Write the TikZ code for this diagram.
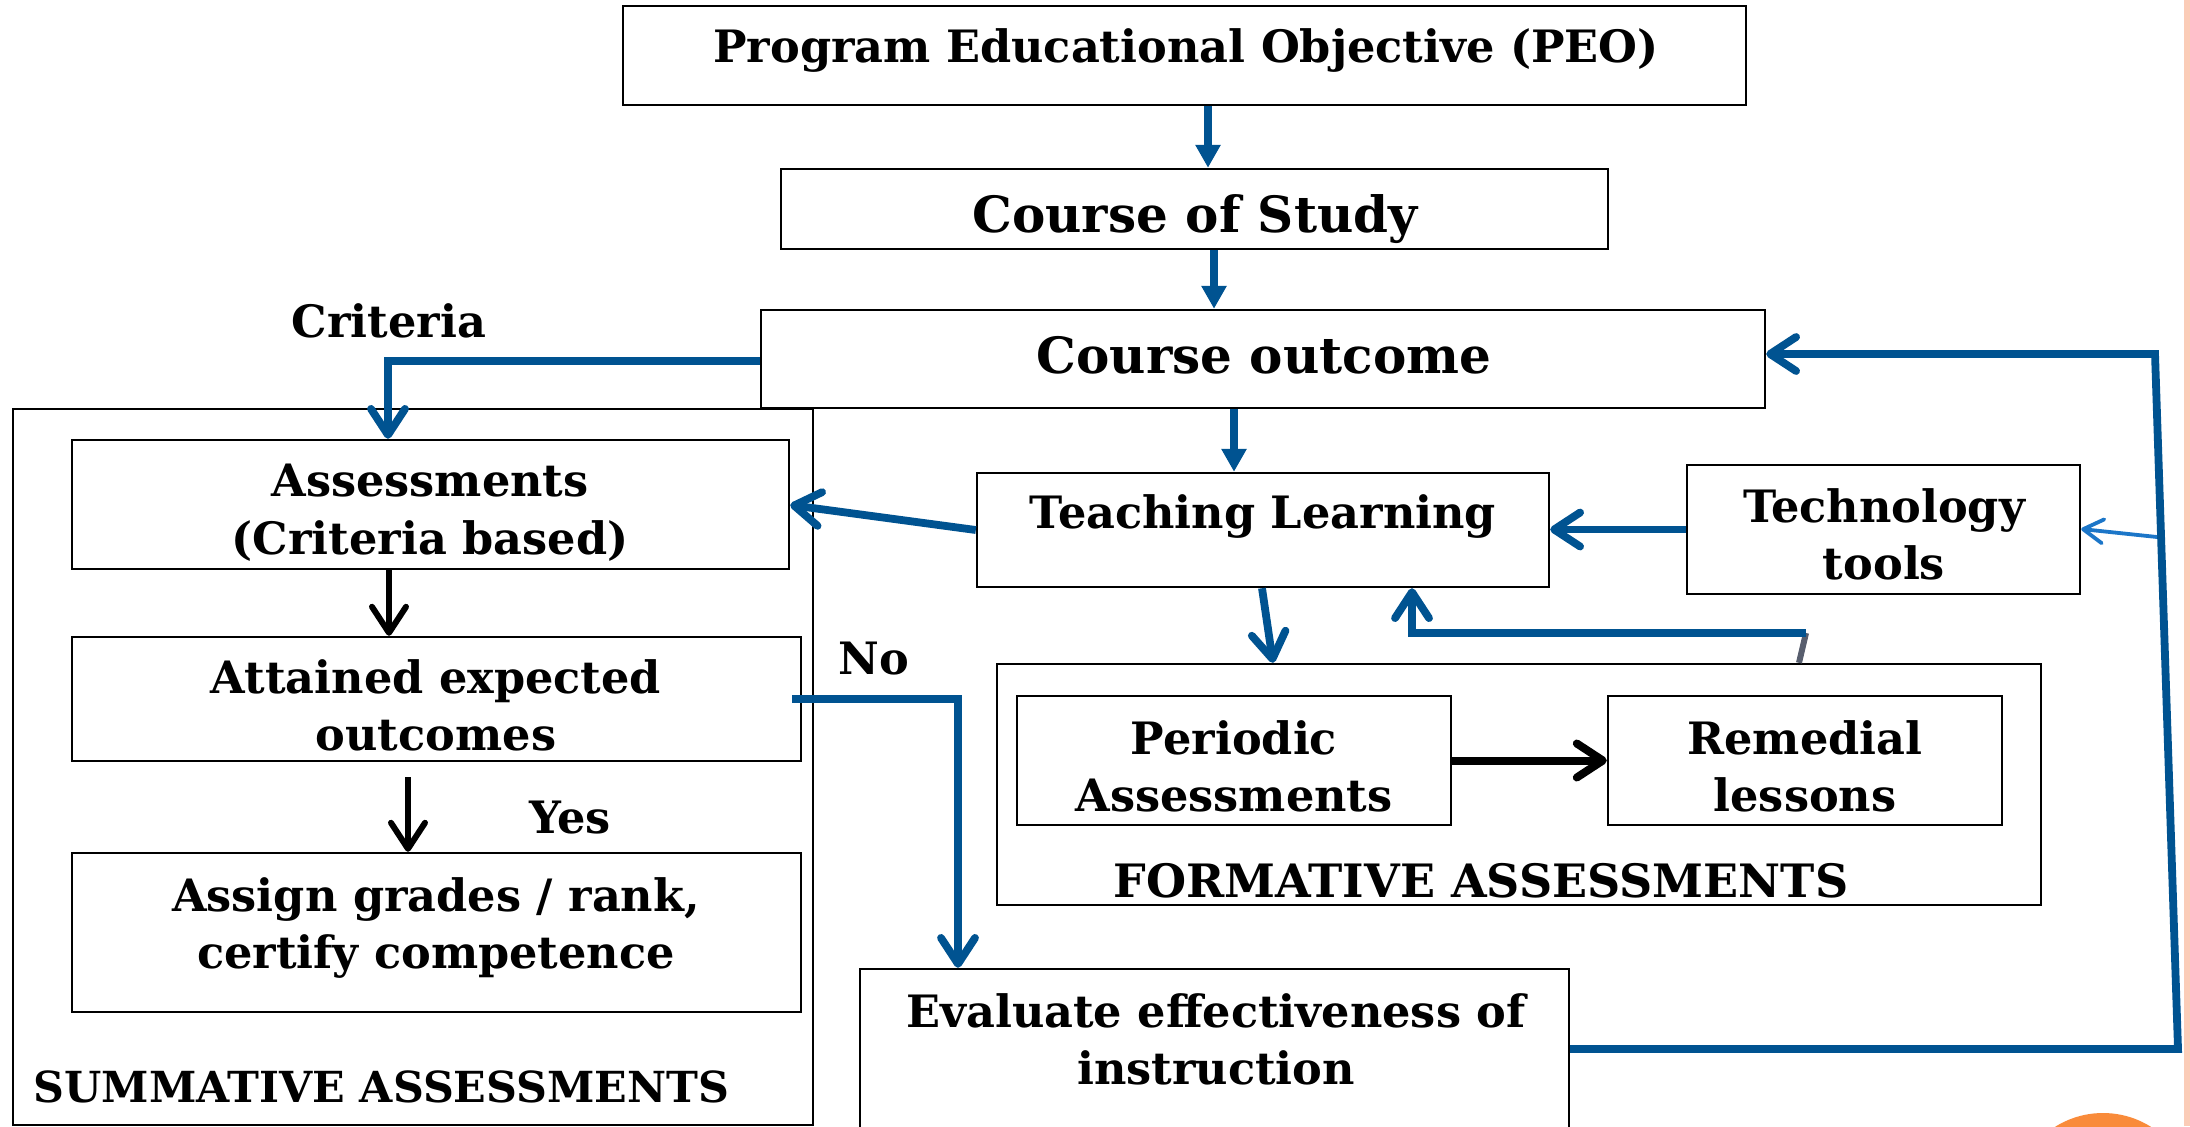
\documentclass[tikz,border=0pt]{standalone}
\usepackage{fontspec}
\setmainfont{DejaVu Serif}
\usetikzlibrary{arrows.meta,fit}

\definecolor{flowblue}{RGB}{0,83,145}
\definecolor{toolblue}{RGB}{28,118,200}
\definecolor{stubgray}{RGB}{88,94,110}
\definecolor{dotorange}{RGB}{249,139,58}
\definecolor{edgepeach}{RGB}{251,204,183}

\tikzset{
  box/.style={draw=black, line width=1.2pt, inner sep=0pt, rectangle},
  frame/.style={draw=black, line width=1pt, inner sep=0pt, rectangle},
  txt/.style={font=\fontsize{22.3}{28.75}\selectfont\bfseries, inner sep=0pt, anchor=base},
  bigtxt/.style={font=\fontsize{25}{31}\selectfont\bfseries, inner sep=0pt, anchor=base},
  mtxt/.style={font=\fontsize{22.3}{28.75}\selectfont\bfseries, inner sep=0pt,
               align=center, anchor=north, execute at begin node=\strut},
  tri/.style={draw=flowblue, line width=4pt, -{Triangle[length=11.5pt,width=12pt]}},
  barb/.style={draw=flowblue, line width=3.9pt, line join=miter,
               -{Straight Barb[length=13pt,width=17pt,round]}},
  kbarb/.style={draw=black, line width=3pt, -{Straight Barb[length=13pt,width=17pt,round]}},
  kbarbthick/.style={draw=black, line width=4pt, -{Straight Barb[length=13pt,width=17pt,round]}},
  tbarb/.style={draw=toolblue, line width=1.9pt, -{Straight Barb[length=10pt,width=12pt,round]}},
}

\begin{document}
\begin{tikzpicture}[x=0.5pt,y=-0.5pt]
  \useasboundingbox (0,0) rectangle (2190,1126);
  \fill[white] (0,0) rectangle (2190,1126);

  % decorative page elements at the right edge
  \fill[edgepeach] (2184,0) rectangle (2190,1126);
  \fill[dotorange] (2103,1203) circle [radius=45pt];

  % main chain
  \node[box, fit={(623,6) (1746,105)}] (peo) {};
  \node[txt] (peo-t) at (1186,62) {Program Educational Objective (PEO)};
  \node[box, fit={(781,169) (1608,249)}] (cos) {};
  \node[bigtxt] (cos-t) at (1195,232) {Course of Study};
  \node[box, fit={(761,310) (1765,408)}] (co) {};
  \node[bigtxt] (co-t) at (1264,373) {Course outcome};

  % summative side
  \node[frame, fit={(13,409) (813,1125)}] (summ) {};
  \node[txt, anchor=base west, font=\fontsize{21.4}{28}\selectfont\bfseries] (summ-t) at (33,1102) {SUMMATIVE ASSESSMENTS};
  \node[box, fit={(72,440) (789,569)}] (assess) {};
  \node[mtxt] (assess-t) at (430,464) {Assessments\\(Criteria based)};
  \node[box, fit={(72,637) (801,761)}] (attain) {};
  \node[mtxt] (attain-t) at (436,659) {Attained expected\\outcomes};
  \node[box, fit={(72,853) (801,1012)}] (assign) {};
  \node[mtxt] (assign-t) at (436,877) {Assign grades / rank,\\certify competence};
  \node[txt] (crit-t) at (389,337) {Criteria};
  \node[txt] (yes-t) at (570,833) {Yes};
  \node[txt] (no-t) at (874,674) {No};

  % teaching side
  \node[box, fit={(977,473) (1549,587)}] (tl) {};
  \node[txt] (tl-t) at (1263,528) {Teaching Learning};
  \node[box, fit={(1687,465) (2080,594)}] (tech) {};
  \node[mtxt] (tech-t) at (1884,488) {Technology\\tools};

  % formative side
  \node[box, fit={(997,664) (2041,905)}] (form) {};
  \node[txt, font=\fontsize{23}{29}\selectfont\bfseries] (form-t) at (1481,897) {FORMATIVE ASSESSMENTS};
  \node[box, fit={(1017,696) (1451,825)}] (periodic) {};
  \node[mtxt] (periodic-t) at (1234,720) {Periodic\\Assessments};
  \node[box, fit={(1608,696) (2002,825)}] (remedial) {};
  \node[mtxt] (remedial-t) at (1805,720) {Remedial\\lessons};

  % evaluation
  \node[box, fit={(860,969) (1569,1150)}] (eval) {};
  \node[mtxt] (eval-t) at (1216,993) {Evaluate effectiveness of\\instruction};

  % bend points
  \coordinate (fb-top) at (1806,633);
  \coordinate (loop-br) at (2178,1049);
  \coordinate (loop-tr) at (2155,354);
  \coordinate (yes-start) at (408,777);

  % connectors
  \draw[tri] (1208,0 |- peo.south) -- (1208,0 |- cos.north);
  \draw[tri] (1214,0 |- cos.south) -- (1214,0 |- co.north);
  \draw[tri] (1234,0 |- co.south) -- (1234,0 |- tl.north);

  \draw[barb] (co.west |- 0,361) -- (388,361) -- (388,0 |- assess.north);
  \draw[barb] (tl.west |- 0,530) -- (assess.east |- 0,505);
  \draw[barb] (tech.west) -- (tech.west -| tl.east);
  \draw[barb] (1262,0 |- tl.south) -- (1273,0 |- form.north);
  \draw[draw=stubgray, line width=3pt] (1799,0 |- form.north) -- (fb-top);
  \draw[barb] (fb-top) -- (1412,0 |- fb-top) -- (1412,0 |- tl.south);

  \draw[kbarb] (389,0 |- assess.south) -- (389,0 |- attain.north);
  \draw[kbarb] (yes-start) -- (yes-start |- assign.north);
  \draw[kbarbthick] (periodic.east) -- (remedial.west);

  \draw[barb] ([xshift=-5pt]attain.east) -- (958,0 |- attain.east) -- (958,0 |- eval.north);

  \draw[barb] (eval.east |- loop-br) -- (loop-br) -- (loop-tr) -- (co.east |- loop-tr);
  \draw[tbarb] (2157,537) -- (tech.east |- 0,529);
\end{tikzpicture}
\end{document}
